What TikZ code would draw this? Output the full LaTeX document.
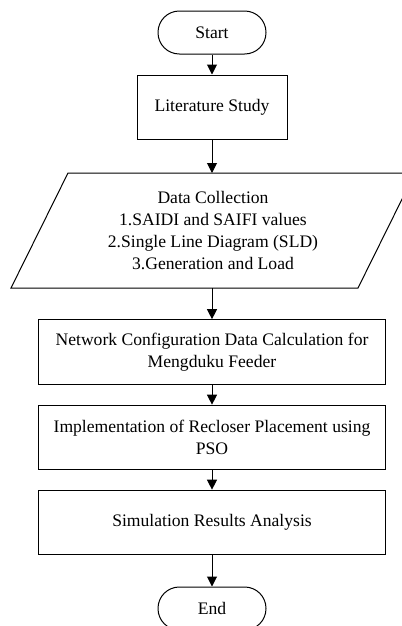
\documentclass[tikz,border=0pt]{standalone}
\usepackage{fontspec}
\setmainfont{Liberation Serif}
\usetikzlibrary{arrows.meta}
\begin{document}
\begin{tikzpicture}[x=0.75pt,y=-0.75pt,
  line width=0.75pt,
  every node/.style={font=\fontsize{13.2}{16.3}\selectfont},
  procbox/.style={draw, align=center, inner sep=0pt, minimum width=260.25pt, minimum height=48.5pt},
  smallbox/.style={draw, align=center, inner sep=0pt, minimum width=112.5pt, minimum height=48pt},
  term/.style={draw, rounded corners=16pt, inner sep=0pt, minimum width=81pt, minimum height=32.25pt},
  flow/.style={-{Triangle[length=7.5pt,width=7.5pt]}}]
\clip (0,0) rectangle (402,626);
\node[term] (start) at (212,32.5) {Start};
\node[smallbox] (lit) at (212,107) {Literature Study};
\draw (68,173) -- (415,173) -- (358,288) -- (11,288) -- cycle;
\coordinate (dctop) at (212,173);
\coordinate (dcbot) at (212,288);
\node[align=center, inner sep=0pt] (dc) at (213,230.5) {Data Collection\\1.SAIDI and SAIFI values\\2.Single Line Diagram (SLD)\\3.Generation and Load};
\node[procbox] (net) at (212,352) {Network Configuration Data Calculation for\\Mengduku Feeder};
\node[procbox] (impl) at (212,437.5) {Implementation of Recloser Placement using\\PSO};
\node[procbox] (sim) at (212,522.5) {Simulation Results Analysis};
\node[term] (end) at (212,608.5) {End};
\draw[flow] (start) -- (lit);
\draw[flow] (lit) -- (dctop);
\draw[flow] (dcbot) -- (net);
\draw[flow] (net) -- (impl);
\draw[flow] (impl) -- (sim);
\draw[flow] (sim) -- (end);
\end{tikzpicture}
\end{document}
